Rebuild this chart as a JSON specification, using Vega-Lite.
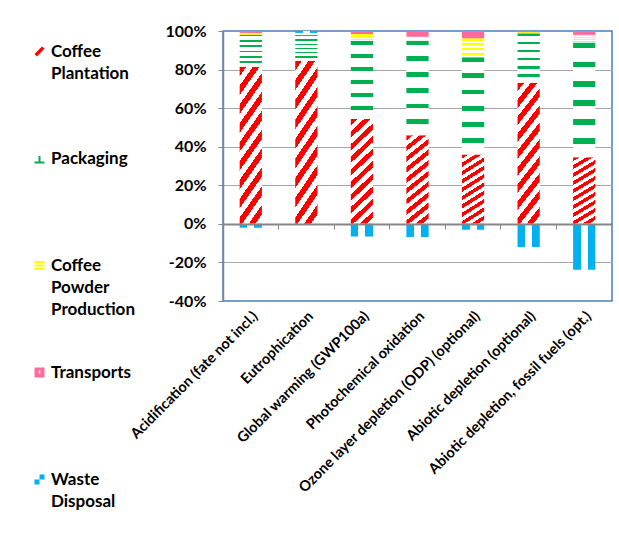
{
  "$schema": "https://vega.github.io/schema/vega-lite/v6.json",
  "width": 389,
  "height": 270,
  "autosize": {"type": "none"},
  "padding": {"left": 223, "top": 31, "right": 7, "bottom": 247},
  "background": "#ffffff",
  "config": {
    "font": "Lato",
    "view": {"stroke": "#4a7ebb", "strokeWidth": 1.5}
  },
  "data": {
    "values": [
      {"cat": "Acidification (fate not incl.)", "s": "Coffee Plantation", "k": 1, "v": 81.5},
      {"cat": "Acidification (fate not incl.)", "s": "Packaging", "k": 2, "v": 16.5},
      {"cat": "Acidification (fate not incl.)", "s": "Coffee Powder Production", "k": 3, "v": 1.0},
      {"cat": "Acidification (fate not incl.)", "s": "Transports", "k": 4, "v": 1.0},
      {"cat": "Acidification (fate not incl.)", "s": "Waste Disposal", "k": 5, "v": -2.0},
      {"cat": "Eutrophication", "s": "Coffee Plantation", "k": 1, "v": 84.6},
      {"cat": "Eutrophication", "s": "Packaging", "k": 2, "v": 13.3},
      {"cat": "Eutrophication", "s": "Coffee Powder Production", "k": 3, "v": 1.0},
      {"cat": "Eutrophication", "s": "Transports", "k": 4, "v": 0.1},
      {"cat": "Eutrophication", "s": "Waste Disposal", "k": 5, "v": 1.0},
      {"cat": "Global warming (GWP100a)", "s": "Coffee Plantation", "k": 1, "v": 54.4},
      {"cat": "Global warming (GWP100a)", "s": "Packaging", "k": 2, "v": 40.6},
      {"cat": "Global warming (GWP100a)", "s": "Coffee Powder Production", "k": 3, "v": 3.4},
      {"cat": "Global warming (GWP100a)", "s": "Transports", "k": 4, "v": 1.6},
      {"cat": "Global warming (GWP100a)", "s": "Waste Disposal", "k": 5, "v": -6.5},
      {"cat": "Photochemical oxidation", "s": "Coffee Plantation", "k": 1, "v": 46.0},
      {"cat": "Photochemical oxidation", "s": "Packaging", "k": 2, "v": 49.0},
      {"cat": "Photochemical oxidation", "s": "Coffee Powder Production", "k": 3, "v": 2.0},
      {"cat": "Photochemical oxidation", "s": "Transports", "k": 4, "v": 3.0},
      {"cat": "Photochemical oxidation", "s": "Waste Disposal", "k": 5, "v": -6.8},
      {"cat": "Ozone layer depletion (ODP) (optional)", "s": "Coffee Plantation", "k": 1, "v": 36.0},
      {"cat": "Ozone layer depletion (ODP) (optional)", "s": "Packaging", "k": 2, "v": 50.4},
      {"cat": "Ozone layer depletion (ODP) (optional)", "s": "Coffee Powder Production", "k": 3, "v": 9.8},
      {"cat": "Ozone layer depletion (ODP) (optional)", "s": "Transports", "k": 4, "v": 3.8},
      {"cat": "Ozone layer depletion (ODP) (optional)", "s": "Waste Disposal", "k": 5, "v": -3.0},
      {"cat": "Abiotic depletion (optional)", "s": "Coffee Plantation", "k": 1, "v": 73.2},
      {"cat": "Abiotic depletion (optional)", "s": "Packaging", "k": 2, "v": 25.6},
      {"cat": "Abiotic depletion (optional)", "s": "Coffee Powder Production", "k": 3, "v": 0.6},
      {"cat": "Abiotic depletion (optional)", "s": "Transports", "k": 4, "v": 0.6},
      {"cat": "Abiotic depletion (optional)", "s": "Waste Disposal", "k": 5, "v": -12.0},
      {"cat": "Abiotic depletion, fossil fuels (opt.)", "s": "Coffee Plantation", "k": 1, "v": 34.5},
      {"cat": "Abiotic depletion, fossil fuels (opt.)", "s": "Packaging", "k": 2, "v": 59.5},
      {"cat": "Abiotic depletion, fossil fuels (opt.)", "s": "Coffee Powder Production", "k": 3, "v": 4.0},
      {"cat": "Abiotic depletion, fossil fuels (opt.)", "s": "Transports", "k": 4, "v": 2.0},
      {"cat": "Abiotic depletion, fossil fuels (opt.)", "s": "Waste Disposal", "k": 5, "v": -23.8}
    ]
  },
  "encoding": {
    "y": {
      "field": "v",
      "type": "quantitative",
      "stack": "zero",
      "scale": {"domain": [-40, 100], "nice": false, "zero": false},
      "axis": {
        "title": null,
        "values": [-40, -20, 0, 20, 40, 60, 80, 100],
        "labelExpr": "datum.value + '%'",
        "labelFont": "Lato",
        "labelFontSize": 16,
        "labelFontWeight": "bold",
        "labelColor": "#000000",
        "labelPadding": 12,
        "domainColor": "#868686",
        "domainWidth": 1.5,
        "tickColor": "#868686",
        "tickSize": 5,
        "tickWidth": 1,
        "grid": true,
        "gridColor": {"condition": {"test": "datum.value === 100 || datum.value === -40 || datum.value === 0", "value": "transparent"}, "value": "#a6a6a6"},
        "gridWidth": 1
      }
    }
  },
  "layer": [
    {
      "mark": {"type": "bar"},
      "encoding": {
        "x": {
          "field": "cat",
          "type": "nominal",
          "sort": null,
          "scale": {"paddingInner": 0.6, "paddingOuter": 0.3},
          "axis": {
            "title": null,
            "orient": "bottom",
            "domain": false,
            "ticks": false,
            "labelAngle": -45,
            "labelFont": "Lato",
            "labelFontSize": 14.5,
            "labelFontWeight": "bold",
            "labelColor": "#000000",
            "labelPadding": 8,
            "labelLimit": 300
          }
        },
        "order": {"field": "k", "type": "quantitative"},
        "fill": {
          "condition": [
            {"test": "datum.s === 'Coffee Plantation'", "value": {"gradient": "linear", "x1": 0, "y1": 0, "x2": 0.231, "y2": 1.154, "stops": [
                {"offset": 0, "color": "#ff0000"}, {"offset": 0.05, "color": "#ff0000"}, {"offset": 0.05, "color": "#ffffff"}, {"offset": 0.1, "color": "#ffffff"},
                {"offset": 0.1, "color": "#ff0000"}, {"offset": 0.15, "color": "#ff0000"}, {"offset": 0.15, "color": "#ffffff"}, {"offset": 0.2, "color": "#ffffff"},
                {"offset": 0.2, "color": "#ff0000"}, {"offset": 0.25, "color": "#ff0000"}, {"offset": 0.25, "color": "#ffffff"}, {"offset": 0.3, "color": "#ffffff"},
                {"offset": 0.3, "color": "#ff0000"}, {"offset": 0.35, "color": "#ff0000"}, {"offset": 0.35, "color": "#ffffff"}, {"offset": 0.4, "color": "#ffffff"},
                {"offset": 0.4, "color": "#ff0000"}, {"offset": 0.45, "color": "#ff0000"}, {"offset": 0.45, "color": "#ffffff"}, {"offset": 0.5, "color": "#ffffff"},
                {"offset": 0.5, "color": "#ff0000"}, {"offset": 0.55, "color": "#ff0000"}, {"offset": 0.55, "color": "#ffffff"}, {"offset": 0.6, "color": "#ffffff"},
                {"offset": 0.6, "color": "#ff0000"}, {"offset": 0.65, "color": "#ff0000"}, {"offset": 0.65, "color": "#ffffff"}, {"offset": 0.7, "color": "#ffffff"},
                {"offset": 0.7, "color": "#ff0000"}, {"offset": 0.75, "color": "#ff0000"}, {"offset": 0.75, "color": "#ffffff"}, {"offset": 0.8, "color": "#ffffff"},
                {"offset": 0.8, "color": "#ff0000"}, {"offset": 0.85, "color": "#ff0000"}, {"offset": 0.85, "color": "#ffffff"}, {"offset": 0.9, "color": "#ffffff"},
                {"offset": 0.9, "color": "#ff0000"}, {"offset": 0.95, "color": "#ff0000"}, {"offset": 0.95, "color": "#ffffff"}, {"offset": 1, "color": "#ffffff"}
              ]}},
            {"test": "datum.s === 'Packaging'", "value": {"gradient": "linear", "x1": 0, "y1": 0, "x2": 0, "y2": 1, "stops": [
                {"offset": 0, "color": "#00b050"}, {"offset": 0.05, "color": "#00b050"}, {"offset": 0.05, "color": "#ffffff"}, {"offset": 0.1667, "color": "#ffffff"},
                {"offset": 0.1667, "color": "#00b050"}, {"offset": 0.2167, "color": "#00b050"}, {"offset": 0.2167, "color": "#ffffff"}, {"offset": 0.3333, "color": "#ffffff"},
                {"offset": 0.3333, "color": "#00b050"}, {"offset": 0.3833, "color": "#00b050"}, {"offset": 0.3833, "color": "#ffffff"}, {"offset": 0.5, "color": "#ffffff"},
                {"offset": 0.5, "color": "#00b050"}, {"offset": 0.55, "color": "#00b050"}, {"offset": 0.55, "color": "#ffffff"}, {"offset": 0.6667, "color": "#ffffff"},
                {"offset": 0.6667, "color": "#00b050"}, {"offset": 0.7167, "color": "#00b050"}, {"offset": 0.7167, "color": "#ffffff"}, {"offset": 0.8333, "color": "#ffffff"},
                {"offset": 0.8333, "color": "#00b050"}, {"offset": 0.8833, "color": "#00b050"}, {"offset": 0.8833, "color": "#ffffff"}, {"offset": 1, "color": "#ffffff"}
              ]}},
            {"test": "datum.s === 'Coffee Powder Production'", "value": {"gradient": "linear", "x1": 0, "y1": 0, "x2": 0, "y2": 1, "stops": [
                {"offset": 0, "color": "#ffff00"}, {"offset": 0.125, "color": "#ffff00"}, {"offset": 0.125, "color": "#ffffff"}, {"offset": 0.25, "color": "#ffffff"},
                {"offset": 0.25, "color": "#ffff00"}, {"offset": 0.375, "color": "#ffff00"}, {"offset": 0.375, "color": "#ffffff"}, {"offset": 0.5, "color": "#ffffff"},
                {"offset": 0.5, "color": "#ffff00"}, {"offset": 0.625, "color": "#ffff00"}, {"offset": 0.625, "color": "#ffffff"}, {"offset": 0.75, "color": "#ffffff"},
                {"offset": 0.75, "color": "#ffff00"}, {"offset": 0.875, "color": "#ffff00"}, {"offset": 0.875, "color": "#ffffff"}, {"offset": 1, "color": "#ffffff"}
              ]}},
            {"test": "datum.s === 'Transports'", "value": "#ff6c9c"}
          ],
          "value": {"gradient": "linear", "x1": 0, "y1": 0, "x2": 1, "y2": 0, "stops": [
            {"offset": 0, "color": "#00b0f0"}, {"offset": 0.34, "color": "#00b0f0"}, {"offset": 0.34, "color": "#ffffff"}, {"offset": 0.66, "color": "#ffffff"},
            {"offset": 0.66, "color": "#00b0f0"}, {"offset": 1, "color": "#00b0f0"}
          ]}
        }
      }
    },
    {
      "mark": {"type": "bar", "opacity": 0},
      "encoding": {
        "x": {
          "field": "cat",
          "type": "nominal",
          "sort": null,
          "axis": {
            "title": null,
            "orient": "bottom",
            "offset": -77,
            "labels": false,
            "domain": true,
            "domainColor": "#868686",
            "domainWidth": 2,
            "ticks": true,
            "tickColor": "#868686",
            "tickSize": 5,
            "tickWidth": 1,
            "bandPosition": -0.75,
            "grid": false,
            "zindex": 1
          }
        },
        "color": {
          "field": "s",
          "type": "nominal",
          "scale": {
            "domain": ["Coffee Plantation", "Packaging", "Coffee Powder Production", "Transports", "Waste Disposal"],
            "range": ["#ff0000", "#00b050", "#ffff00", "#ff6c9c", "#00b0f0"]
          },
          "legend": {
            "title": null,
            "orient": "none",
            "legendX": -192,
            "legendY": 12,
            "padding": 0,
            "direction": "vertical",
            "symbolType": "square",
            "symbolSize": 100,
            "symbolStrokeWidth": 0,
            "symbolOpacity": 1,
            "labelFont": "Lato",
            "labelFontSize": 17,
            "labelFontWeight": "bold",
            "labelColor": "#000000",
            "labelOffset": 3,
            "labelLimit": 200,
            "labelBaseline": "top",
            "labelExpr": "split(datum.label, ' ')",
            "gridAlign": "all",
            "rowPadding": 45,
            "encode": {
              "labels": {"update": {"dy": {"value": -8}, "lineHeight": {"value": 22}}},
              "symbols": {"update": {
                "opacity": {"value": 1},
                "fillOpacity": {"value": 1},
                "shape": [
                  {"test": "datum.value === 'Coffee Plantation'", "value": "M-1,0.5L0.5,-1L1,-0.6L-0.5,1Z"},
                  {"test": "datum.value === 'Packaging'", "value": "M-1,0.6H1V1H-1Z M-0.2,-0.5H0.2V0.6H-0.2Z"},
                  {"test": "datum.value === 'Coffee Powder Production'", "value": "M-1,-0.9H1V-0.5H-1Z M-1,-0.2H1V0.2H-1Z M-1,0.5H1V0.9H-1Z"},
                  {"test": "datum.value === 'Transports'", "value": "M-1,-1H1V1H-1Z M-0.15,-0.4V0.2H0.15V-0.4Z"},
                  {"value": "M0,-1H1V0H0Z M-1,0H0V1H-1Z"}
                ]
              }}
            }
          }
        }
      }
    }
  ],
  "resolve": {"axis": {"x": "independent"}}
}
